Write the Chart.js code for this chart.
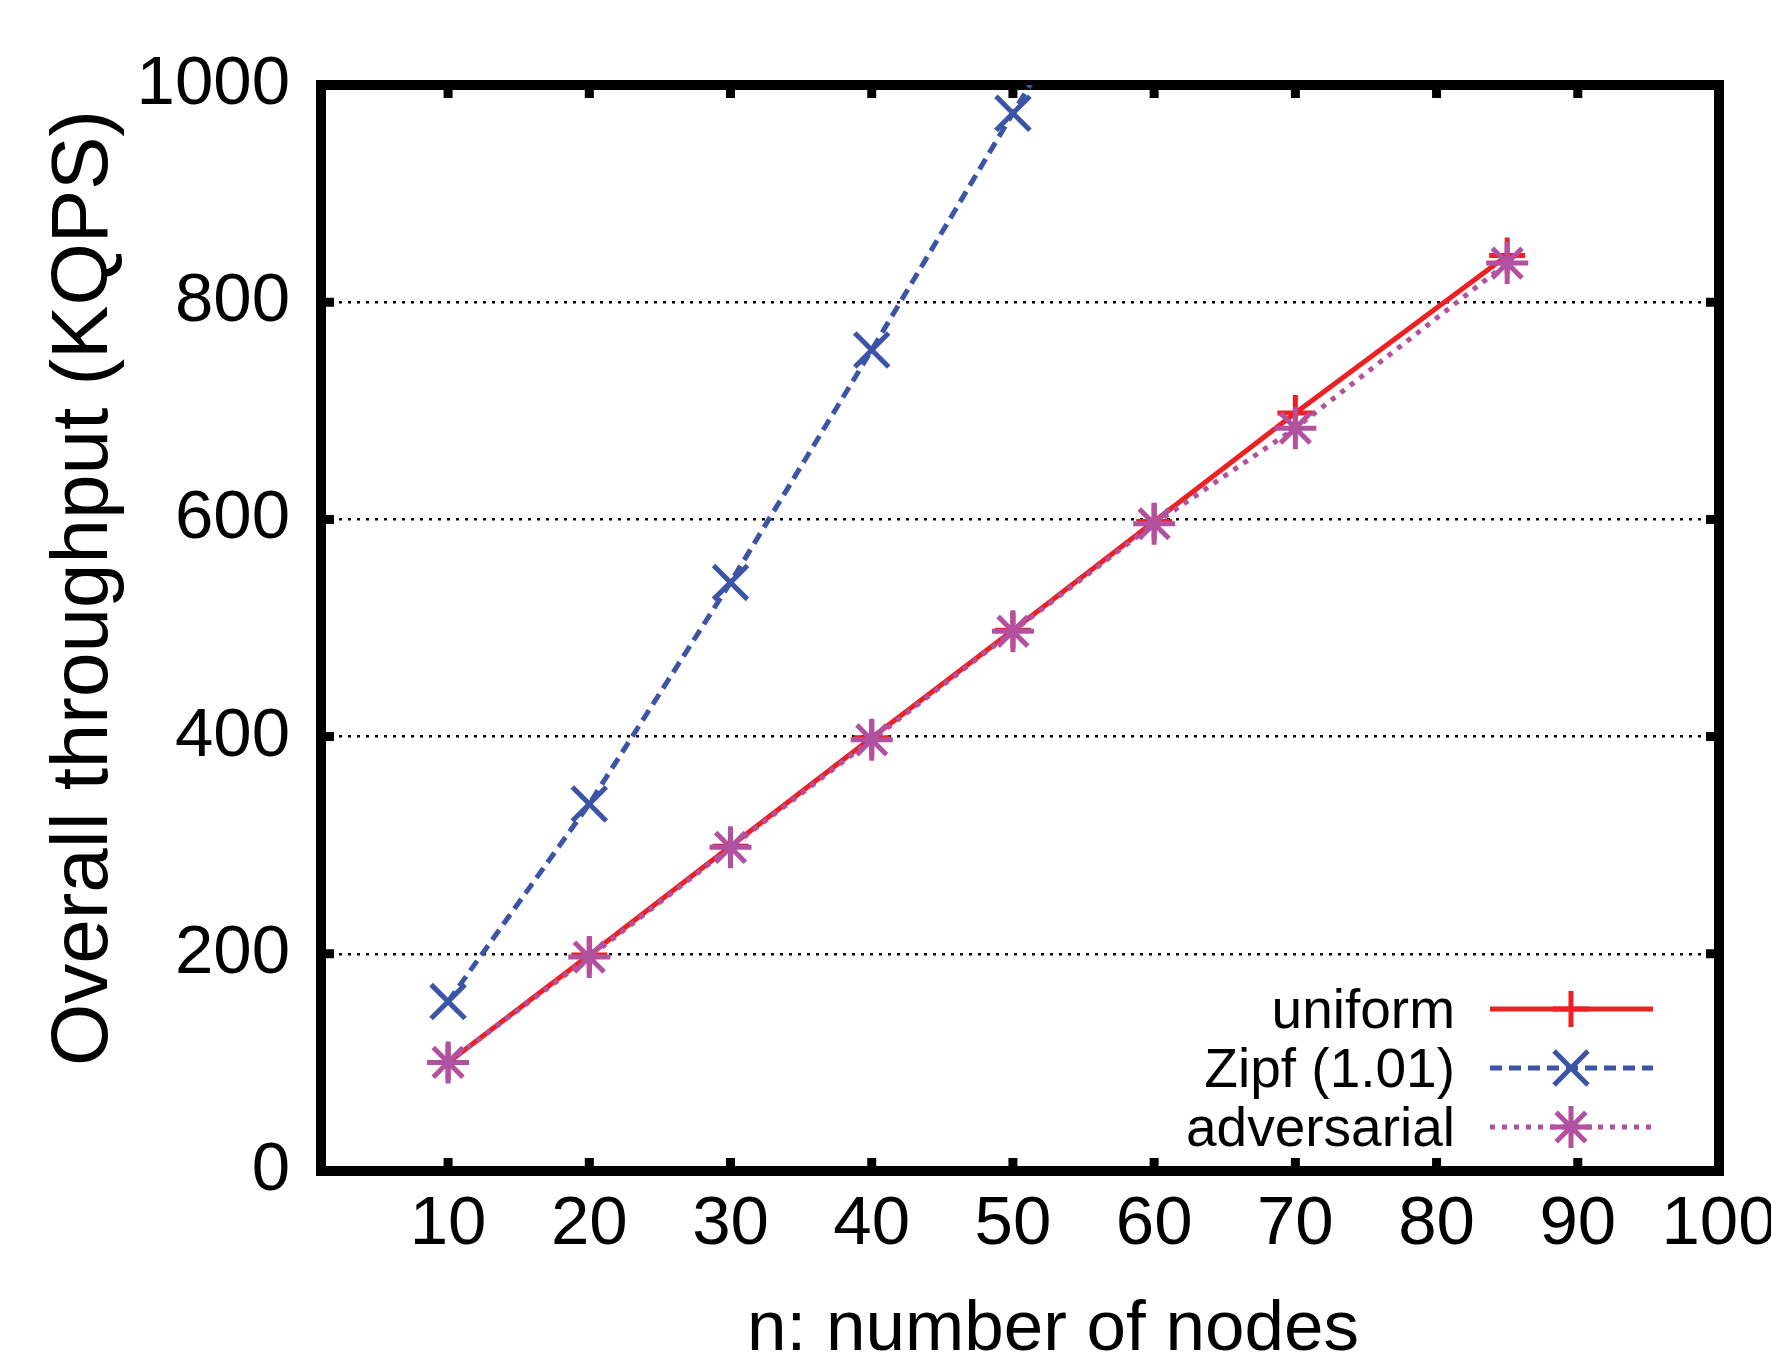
<!DOCTYPE html>
<html>
<head>
<meta charset="utf-8">
<script src="https://cdn.jsdelivr.net/npm/chart.js@4/dist/chart.umd.min.js"></script>
<style>
  html, body { margin: 0; padding: 0; background: #fff; }
  canvas { display: block; }
</style>
</head>
<body>
<canvas id="throughput" width="1771" height="1355"></canvas>
<script>
// data
const nodes = [10, 20, 30, 40, 50, 60, 70, 85];
const uniformKqps = [100, 199, 299, 399, 498, 598, 698, 843];
const adversarialKqps = [100, 197, 298, 397, 497, 596, 684, 836];
// zipf runs off the top of the plot after 50 nodes
const zipfNodes = [10, 20, 30, 40, 50, 60];
const zipfKqps = [156, 338, 542, 756, 974, 1190];

const seriesLabels = ['uniform', 'Zipf (1.01)', 'adversarial'];
const xTicks = [10, 20, 30, 40, 50, 60, 70, 80, 90, 100];
const yTicks = [0, 200, 400, 600, 800, 1000];

const FONT = "'Liberation Sans', Arial, Helvetica, sans-serif";

function toPoints(xs, ys) {
  return xs.map((x, i) => ({ x: x, y: ys[i] }));
}

//gnuplot style frame with the ticks pointing inwards
const framePlugin = {
  id: 'frame',
  beforeDatasetsDraw(chart) {
    const ctx = chart.ctx;
    const a = chart.chartArea;
    const xs = chart.scales.x;
    const ys = chart.scales.y;
    const tickLen = 13;
    ctx.save();
    ctx.strokeStyle = '#000';
    ctx.lineWidth = 9;
    ctx.lineCap = 'butt';
    xTicks.forEach(v => {
      const px = xs.getPixelForValue(v);
      if (px <= a.left + 1 || px >= a.right - 1) return;
      ctx.beginPath();
      ctx.moveTo(px, a.bottom);
      ctx.lineTo(px, a.bottom - tickLen);
      ctx.moveTo(px, a.top);
      ctx.lineTo(px, a.top + tickLen);
      ctx.stroke();
    });
    yTicks.forEach(v => {
      const py = ys.getPixelForValue(v);
      if (py <= a.top + 1 || py >= a.bottom - 1) return;
      ctx.beginPath();
      ctx.moveTo(a.left, py);
      ctx.lineTo(a.left + tickLen, py);
      ctx.moveTo(a.right, py);
      ctx.lineTo(a.right - tickLen, py);
      ctx.stroke();
    });
    ctx.lineWidth = 10;
    ctx.lineJoin = 'miter';
    ctx.strokeRect(a.left, a.top, a.right - a.left, a.bottom - a.top);
    ctx.restore();
  }
};

function drawMarker(ctx, style, r, x, y) {
  ctx.beginPath();
  if (style === 'cross' || style === 'star') {
    ctx.moveTo(x - r, y); ctx.lineTo(x + r, y);
    ctx.moveTo(x, y - r); ctx.lineTo(x, y + r);
  }
  if (style === 'crossRot' || style === 'star') {
    const d = r * Math.SQRT1_2;
    ctx.moveTo(x - d, y - d); ctx.lineTo(x + d, y + d);
    ctx.moveTo(x - d, y + d); ctx.lineTo(x + d, y - d);
  }
  ctx.stroke();
}

// key in the bottom right, text right aligned in front of the sample line
const keyPlugin = {
  id: 'gnuKey',
  afterDraw(chart) {
    const ctx = chart.ctx;
    ctx.save();
    chart.data.datasets.forEach((ds, i) => {
      const rowY = 1009 + i * 59;
      ctx.fillStyle = '#000';
      ctx.font = '55px ' + FONT;
      ctx.textAlign = 'right';
      ctx.textBaseline = 'alphabetic';
      ctx.fillText(ds.label, 1455, rowY + 19);

      ctx.strokeStyle = ds.borderColor;
      ctx.lineWidth = ds.borderWidth;
      ctx.setLineDash(ds.borderDash || []);
      ctx.beginPath();
      ctx.moveTo(1490, rowY);
      ctx.lineTo(1653, rowY);
      ctx.stroke();
      ctx.setLineDash([]);
      ctx.lineWidth = ds.pointBorderWidth;
      drawMarker(ctx, ds.pointStyle, ds.pointRadius, 1571, rowY);
    });
    ctx.restore();
  }
};

// axis titles, placed where gnuplot put them (not centred on the plot)
const axisTitlePlugin = {
  id: 'axisTitles',
  afterDraw(chart) {
    const ctx = chart.ctx;
    ctx.save();
    ctx.fillStyle = '#000';
    ctx.textAlign = 'center';
    ctx.textBaseline = 'alphabetic';
    ctx.font = '71px ' + FONT;
    ctx.fillText('n: number of nodes', 1053, 1350);
    ctx.translate(107, 588);
    ctx.rotate(-Math.PI / 2);
    ctx.font = '80px ' + FONT;
    ctx.fillText('Overall throughput (KQPS)', 0, 0);
    ctx.restore();
  }
};

const data = {
  datasets: [{
    label: seriesLabels[0],
    data: toPoints(nodes, uniformKqps),
    borderColor: 'rgb(237,32,36)',
    backgroundColor: 'rgb(237,32,36)',
    borderWidth: 5,
    pointStyle: 'cross',
    pointRadius: 18,
    pointBorderWidth: 5,
    order: 3
  }, {
    label: seriesLabels[1],
    data: toPoints(zipfNodes, zipfKqps),
    borderColor: 'rgb(59,84,165)',
    backgroundColor: 'rgb(59,84,165)',
    borderWidth: 5,
    borderDash: [12, 7],
    pointStyle: 'crossRot',
    pointRadius: 24,
    pointBorderWidth: 5,
    order: 2
  }, {
    label: seriesLabels[2],
    data: toPoints(nodes, adversarialKqps),
    borderColor: 'rgb(178,81,160)',
    backgroundColor: 'rgb(178,81,160)',
    borderWidth: 5,
    borderDash: [5, 7],
    pointStyle: 'star',
    pointRadius: 21,
    pointBorderWidth: 5,
    order: 1
  }]
};

const config = {
  type: 'line',
  data: data,
  options: {
    responsive: false,
    animation: false,
    events: [],
    layout: { padding: { top: 85, right: 52, left: 0, bottom: 0 } },
    elements: { line: { tension: 0, fill: false } },
    plugins: {
      legend: { display: false },
      tooltip: { enabled: false }
    },
    scales: {
      x: {
        type: 'linear',
        min: 1,
        max: 100,
        afterBuildTicks: scale => { scale.ticks = xTicks.map(v => ({ value: v })); },
        afterFit: scale => { scale.height = 184; scale.paddingLeft = 0; scale.paddingRight = 0; },
        grid: { display: false, drawTicks: false },
        border: { display: false },
        ticks: { color: '#000', padding: 13, maxRotation: 0, autoSkip: false,
                 callback: v => String(v),
                 font: { family: FONT, size: 69 } }
      },
      y: {
        type: 'linear',
        min: 0,
        max: 1000,
        afterBuildTicks: scale => { scale.ticks = yTicks.map(v => ({ value: v })); },
        afterFit: scale => { scale.width = 321; scale.paddingTop = 0; scale.paddingBottom = 0; },
        grid: { color: '#000', lineWidth: 2.5, drawTicks: false },
        border: { display: false, dash: [3, 6] },
        ticks: { color: '#000', padding: 31, callback: v => String(v),
                 font: { family: FONT, size: 69 } }
      }
    }
  },
  plugins: [framePlugin, keyPlugin, axisTitlePlugin]
};

new Chart(document.getElementById('throughput'), config);
</script>
</body>
</html>
